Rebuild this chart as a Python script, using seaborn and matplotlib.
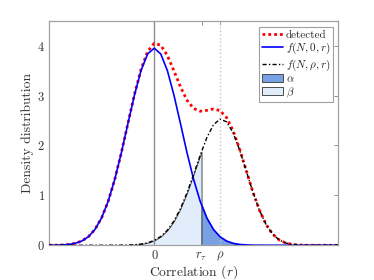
import numpy as np
import matplotlib
matplotlib.use("Agg")
import matplotlib.pyplot as plt
import seaborn as sns
from matplotlib.patches import Patch
from matplotlib.lines import Line2D

# correlation grid and densities
r = [-0.400, -0.375, -0.350, -0.325, -0.300, -0.275, -0.250, -0.225, -0.200,
     -0.175, -0.150, -0.125, -0.100, -0.075, -0.050, -0.025, 0.000, 0.025,
     0.050, 0.075, 0.100, 0.125, 0.150, 0.175, 0.200, 0.225, 0.250, 0.275,
     0.300, 0.325, 0.350, 0.375, 0.400, 0.425, 0.450, 0.475, 0.500, 0.525,
     0.550, 0.575, 0.600, 0.625, 0.650, 0.675, 0.700]

f_null = [0.001, 0.002, 0.007, 0.017, 0.040, 0.086, 0.172, 0.319, 0.549,
          0.880, 1.319, 1.850, 2.436, 3.012, 3.503, 3.834, 3.950, 3.834,
          3.503, 3.012, 2.436, 1.850, 1.319, 0.880, 0.549, 0.319, 0.172,
          0.086, 0.040, 0.017, 0.007, 0.002, 0.001, 0.0, 0.0, 0.0,
          0.0, 0.0, 0.0, 0.0, 0.0, 0.0, 0.0, 0.0, 0.0]

f_rho = [0.0, 0.0, 0.0, 0.0, 0.0, 0.0, 0.0, 0.0, 0.0,
         0.0, 0.001, 0.002, 0.005, 0.011, 0.025, 0.050, 0.097, 0.176,
         0.301, 0.485, 0.737, 1.055, 1.423, 1.806, 2.155, 2.412, 2.528,
         2.475, 2.256, 1.909, 1.492, 1.072, 0.705, 0.420, 0.226, 0.108,
         0.046, 0.017, 0.005, 0.001, 0.0, 0.0, 0.0, 0.0, 0.0]

detected = [0.001, 0.002, 0.007, 0.017, 0.040, 0.086, 0.172, 0.319, 0.549,
            0.880, 1.320, 1.852, 2.441, 3.023, 3.528, 3.884, 4.047, 4.010,
            3.804, 3.497, 3.173, 2.905, 2.742, 2.686, 2.704, 2.731, 2.700,
            2.561, 2.296, 1.926, 1.499, 1.074, 0.706, 0.420, 0.226, 0.108,
            0.046, 0.017, 0.005, 0.001, 0.0, 0.0, 0.0, 0.0, 0.0]

rho = 0.25
r_tau = 0.18
xtick_pos = [0, r_tau, rho]
xtick_labels = ["0", r"$r_\tau$", r"$\rho$"]

sns.set_style("white")
plt.rcParams["font.family"] = ["cmr10", "DejaVu Serif"]
plt.rcParams["mathtext.fontset"] = "cm"
plt.rcParams["axes.unicode_minus"] = False
plt.rcParams["axes.formatter.use_mathtext"] = True

fig = plt.figure(figsize=(3.74, 2.80), dpi=100)
ax = fig.add_axes([0.131, 0.124, 0.7735, 0.802])

x = np.array(r)
y0 = np.array(f_null)
y1 = np.array(f_rho)

alpha_col = "#77a1e2"
beta_col = "#e2edfb"
dashdot = (0, (3.0, 1.6, 1.0, 1.6))

# beta: under f(N,rho,r) left of r_tau ; alpha: under f(N,0,r) right of r_tau
m = x < r_tau
xb = np.append(x[m], r_tau)
yb = np.append(y1[m], np.interp(r_tau, x, y1))
ax.fill_between(xb, 0, yb, color=beta_col, edgecolor="#4a4a4a", lw=0.7)
m2 = x > r_tau
xa = np.insert(x[m2], 0, r_tau)
ya = np.insert(y0[m2], 0, np.interp(r_tau, x, y0))
ax.fill_between(xa, 0, ya, color=alpha_col, edgecolor="#4a4a4a", lw=0.7)

ax.axvline(0, color="#8c8c8c", lw=1.0, zorder=1)
ax.axvline(rho, color="#c4c4c4", lw=1.0, ls=":", zorder=1)

sns.lineplot(x=x, y=detected, color="red", lw=2.0, linestyle=(0, (1, 1.1)), ax=ax, zorder=3)
sns.lineplot(x=x, y=f_null, color="blue", lw=1.2, ax=ax, zorder=4)
sns.lineplot(x=x, y=f_rho, color="black", lw=1.0, linestyle=dashdot, ax=ax, zorder=4)

ax.set_xlim(-0.4, 0.7)
ax.set_ylim(0, 4.5)
ax.set_xticks(xtick_pos)
ax.set_xticklabels(xtick_labels)
ax.set_yticks([0, 1, 2, 3, 4])
ax.tick_params(direction="in", top=True, right=True, length=3, width=0.6,
               color="#7f7f7f", labelcolor="#333333", labelsize=9, pad=3)
for s in ax.spines.values():
    s.set_color("#a0a0a0")
    s.set_linewidth(0.9)

ax.set_xlabel(r"Correlation $(r)$", fontsize=9.8, color="#333333", labelpad=0.5)
ax.set_ylabel("Density distribution", fontsize=9.8, color="#333333", labelpad=2)

handles = [
    Line2D([], [], color="red", lw=2.0, linestyle=(0, (1, 1.1))),
    Line2D([], [], color="blue", lw=1.2),
    Line2D([], [], color="black", lw=1.0, linestyle=dashdot),
    Patch(facecolor=alpha_col, edgecolor="#4a4a4a", lw=0.7),
    Patch(facecolor=beta_col, edgecolor="#4a4a4a", lw=0.7),
]
labels = ["detected", r"$f(N,0,r)$", r"$f(N,\rho,r)$", r"$\alpha$", r"$\beta$"]
leg = ax.legend(handles, labels, loc="upper right", bbox_to_anchor=(0.983, 0.972),
                borderaxespad=0, fontsize=8, fancybox=False, framealpha=1,
                edgecolor="#a0a0a0", handlelength=1.9, handletextpad=0.25,
                labelspacing=0.12, borderpad=0.25)
leg.get_frame().set_linewidth(0.8)

fig.savefig("out.png", dpi=100)
